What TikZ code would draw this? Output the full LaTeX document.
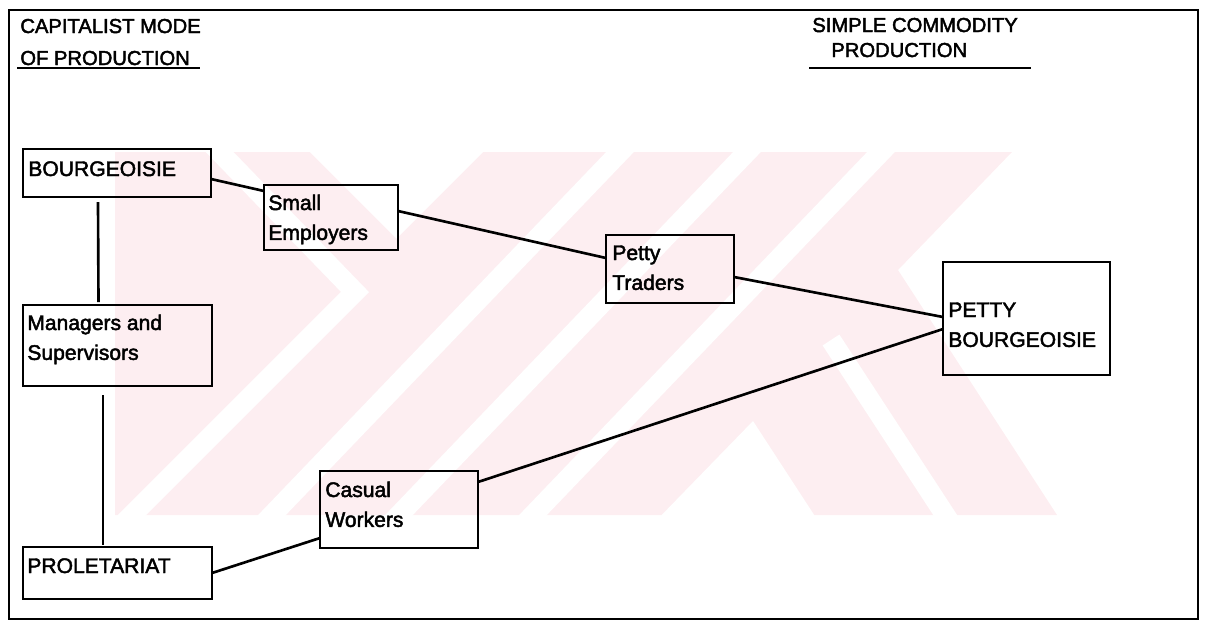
\documentclass[tikz,border=0pt]{standalone}
\usepackage{fontspec}
\setmainfont{Liberation Sans}
\newfontfamily\heavysans{Liberation Sans}[FakeBold=2.2]
\usetikzlibrary{calc}
\definecolor{wmpink}{RGB}{253,238,241}
\begin{document}
\begin{tikzpicture}[x=0.02cm,y=-0.02cm,
  box/.style 2 args={draw, line width=1.3pt, minimum width=#1*0.02cm, minimum height=#2*0.02cm, inner sep=0pt, outer sep=0pt},
  lbl/.style={anchor=base west, inner sep=0pt, font=\heavysans\fontsize{12pt}{17pt}\selectfont},
  ttl/.style={anchor=base west, inner sep=0pt, font=\heavysans\fontsize{11.5pt}{14pt}\selectfont},
  link/.style={line width=1.5pt},
  wmgap/.style={white, line width=0.4cm}]
\useasboundingbox (0,0) rectangle (1205,627);
% faint background watermark
\begin{scope}
  \clip (115,152) rectangle (1090,515);
  \fill[wmpink] (100,152) -- (1012,152) -- (898,270) -- (1057,515) -- (100,515) -- cycle;
  \fill[white] (310,152) -- (483,152) -- (396.5,238.5) -- cycle;
  \draw[wmgap] (208,140) -- (355,292) -- (120,527);
  \draw[wmgap] (631.5,140) -- (260.5,527);
  \draw[wmgap] (758.5,140) -- (387.5,527);
  \draw[wmgap] (892.5,140) -- (521.5,527);
  \fill[white] (753,421) -- (650,527) -- (822,527) -- cycle;
  \draw[wmgap] (831,340) -- (953,527);
\end{scope}
% frame
\draw[line width=1.2pt] (9,10) rectangle (1198,619);
% titles
\node[ttl] (t1) at (20,33) {CAPITALIST MODE};
\node[ttl] (t2) at (20,65) {OF PRODUCTION};
\draw[line width=1.2pt] (17,68) -- (200,68);
\node[ttl] (t3) at (812,32) {SIMPLE COMMODITY};
\node[ttl] (t4) at (831,57) {PRODUCTION};
\draw[line width=1.2pt] (809,68) -- (1031,68);
% boxes
\node[box={188}{48}] (bour) at (117,173) {};
\node[box={134}{65}] (se) at (331,217.5) {};
\node[box={189}{81}] (man) at (117.5,345.5) {};
\node[box={189}{52}] (prol) at (117.5,573) {};
\node[box={158}{77}] (cw) at (399,509.5) {};
\node[box={128}{68}] (pt) at (670,269) {};
\node[box={167}{113}] (pb) at (1026.5,318.5) {};
% labels
\node[lbl] (bourT) at (28,176) {BOURGEOISIE};
\node[lbl] (seT) at (268,210) {\parbox[t]{3cm}{Small\\Employers}};
\node[lbl] (manT) at (27,330) {\parbox[t]{4cm}{Managers and\\Supervisors}};
\node[lbl] (prolT) at (27,573) {PROLETARIAT};
\node[lbl] (cwT) at (325,497) {\parbox[t]{3cm}{Casual\\Workers}};
\node[lbl] (ptT) at (612,260) {\parbox[t]{3cm}{Petty\\Traders}};
\node[lbl] (pbT) at (948,317) {\parbox[t]{3cm}{PETTY\\BOURGEOISIE}};
% connectors
\draw[link] ($(bour.east)+(0,6)$) -- ($(se.west)+(0,-26.5)$);
\draw[link] ($(se.east)+(0,-6.5)$) -- ($(pt.west)+(0,-11)$);
\draw[link] ($(pt.east)+(0,8)$) -- ($(pb.west)+(0,-1.5)$);
\draw[link] ($(cw.east)+(0,-27.5)$) -- ($(pb.west)+(0,10.5)$);
\draw[link] (prol.east) -- ($(cw.west)+(0,28.5)$);
\draw[link] ($(bour.south)+(-19,5)$) -- ($(man.north)+(-19,-3)$);
\draw[link] ($(man.south)+(-14.5,9)$) -- ($(prol.north)+(-14.5,-2)$);
\end{tikzpicture}
\end{document}
